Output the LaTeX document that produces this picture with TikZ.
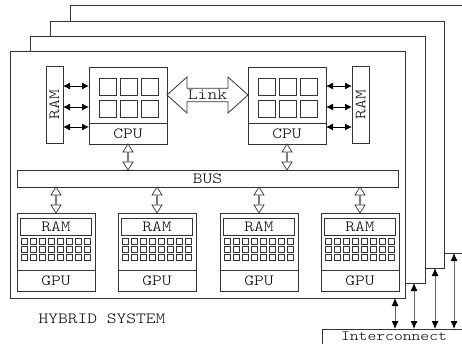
\documentclass[tikz,border=0pt]{standalone}
\usepackage{fontspec}
\setmonofont{lmmonolt10-regular.otf}[FakeStretch=1.2]
\usetikzlibrary{shapes,arrows.meta,positioning,calc}

\begin{document}
\begin{tikzpicture}[
    x=1pt, y=-1pt,
    every node/.style={font=\ttfamily\fontsize{15.5}{18}\selectfont, inner sep=0pt, outer sep=0pt},
    frame/.style={rectangle, draw=black!80, fill=white, line width=1pt, anchor=north west},
    unit/.style={rectangle, draw=black!80, fill=white, line width=0.9pt, anchor=north west},
    core/.style={rectangle, draw=black!80, line width=0.8pt, minimum size=17pt},
    cell/.style={rectangle, draw=black!80, line width=0.7pt, minimum size=6.5pt},
    duplex/.style={{Latex[length=7pt,width=7pt]}-{Latex[length=7pt,width=7pt]}, line width=0.9pt},
    uplink/.style={{Latex[length=8pt,width=7pt,color=black]}-{Latex[length=8pt,width=7pt,color=black]}, draw=black!60, line width=0.9pt},
    pipe/.style={double arrow, draw=black!80, fill=white, line width=0.7pt, double arrow tip angle=64, double arrow head extend=2.5pt, minimum width=10pt, minimum height=26pt, rotate=90},
    link/.style={double arrow, draw=black!80, fill=white, line width=0.8pt, double arrow tip angle=84, double arrow head extend=8.5pt, minimum width=36pt, minimum height=81pt}
]
    \useasboundingbox (0,0) rectangle (462,343);

    % Stacked systems
    \node[frame, minimum width=400, minimum height=248] (sys4) at (70,5) {};
    \node[frame, minimum width=394, minimum height=247] (sys3) at (50,21) {};
    \node[frame, minimum width=395, minimum height=247] (sys2) at (30,36) {};
    \node[frame, minimum width=395, minimum height=247] (sys1) at (10,51) {};

    % Interconnect
    \node[unit, minimum width=144, text height=8pt, text depth=20pt, inner ysep=3pt, font=\ttfamily\fontsize{14}{16}\selectfont] (net) at (322,329) {Interconnect};
    \coordinate (tap1) at ([xshift=73pt]net.north west);
    \coordinate (tap2) at ([xshift=92pt]net.north west);
    \coordinate (tap3) at ([xshift=113pt]net.north west);
    \coordinate (tap4) at ([xshift=132pt]net.north west);
    \draw[uplink] (tap1 |- sys1.south) -- (tap1);
    \draw[uplink] (tap2 |- sys2.south) -- (tap2);
    \draw[uplink] (tap3 |- sys3.south) -- (tap3);
    \draw[uplink] (tap4 |- sys4.south) -- (tap4);

    % CPUs
    \node[unit, minimum width=78, minimum height=56] (coreA) at (89,67) {};
    \node[unit, minimum width=78, minimum height=21, below=0pt of coreA] (cpuA) {CPU};
    \node[unit, minimum width=78, minimum height=56] (coreB) at (248,67) {};
    \node[unit, minimum width=78, minimum height=21, below=0pt of coreB] (cpuB) {CPU};
    \foreach \i in {1,2,3}
      \foreach \j in {1,2} {
        \node[core] (cA\i\j) at ($(coreA.north west)+(21*\i-2.5,22*\j-2.5)$) {};
        \node[core] (cB\i\j) at ($(coreB.north west)+(21*\i-2.5,22*\j-2.5)$) {};
      }

    % Host memory
    \node[unit, minimum width=17, minimum height=77] (ramA) at (46,66) {\rotatebox{90}{RAM}};
    \node[unit, minimum width=17, minimum height=77] (ramB) at (352,66) {\rotatebox{90}{RAM}};
    \foreach \dy in {18.5,-2.5,-22.5} {
      \draw[duplex] ([yshift=\dy pt]ramA.east) -- ([yshift=\dy pt]ramA.east -| coreA.west);
      \draw[duplex] ([yshift=\dy pt]coreB.east |- ramB.west) -- ([yshift=\dy pt]ramB.west);
    }

    % Link
    \node[link] (link) at ($(coreA.east)!.5!(coreB.west)$) {Link};

    % Bus
    \node[unit, minimum width=381, minimum height=17] (bus) at (17,170) {BUS};
    \node[pipe] (pA) at ($(cpuA.south)!.5!(cpuA.south |- bus.north)$) {};
    \node[pipe] (pB) at ($(cpuB.south)!.5!(cpuB.south |- bus.north)$) {};

    % GPUs
    \foreach \k/\x in {1/17,2/118,3/220,4/321} {
      \node[unit, minimum width=78, minimum height=78] (gpu\k) at (\x,213) {};
      \node[unit, minimum width=71, minimum height=17, below=5pt of gpu\k.north] (vram\k) {RAM};
      \node[unit, minimum width=78, minimum height=21, anchor=south] (glab\k) at (gpu\k.south) {GPU};
      \foreach \r in {0,1,2}
        \foreach \c in {0,...,7}
          \node[cell] (g\k\r\c) at ($(gpu\k.north west)+(7.5+9*\c,28.5+8*\r)$) {};
      \node[pipe] (q\k) at ($(gpu\k.north)!.5!(gpu\k.north |- bus.south)$) {};
    }

    \node (title) at (102,319) {HYBRID SYSTEM};
\end{tikzpicture}
\end{document}
